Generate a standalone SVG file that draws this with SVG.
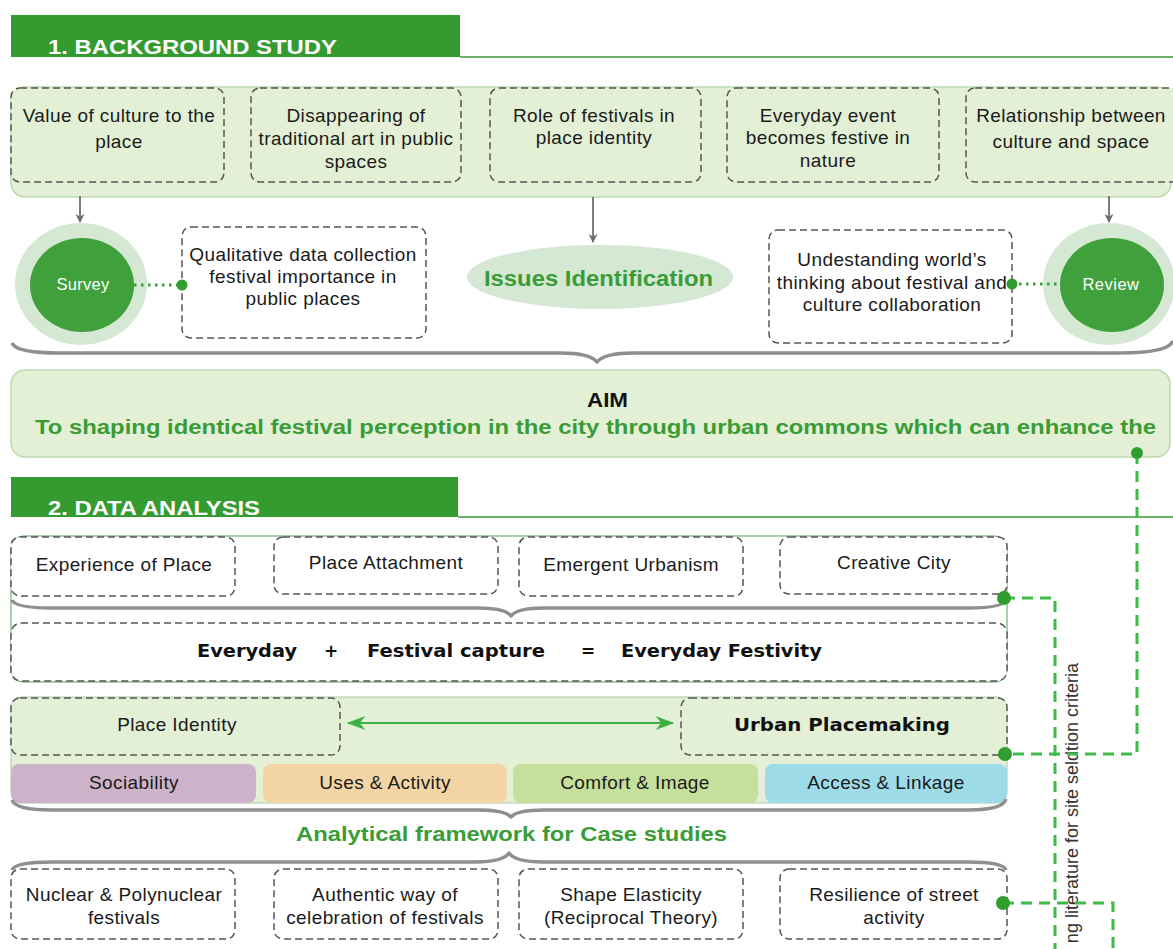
<svg xmlns="http://www.w3.org/2000/svg" width="1173" height="949" viewBox="0 0 1173 949">
<defs>
<style>
.t{font-family:"Liberation Sans",Arial,sans-serif;font-size:19px;fill:#1a1a1a;text-anchor:middle;letter-spacing:0.4px}
.tb{font-family:"Liberation Sans",Arial,sans-serif;font-weight:bold;fill:#111}
.tv{font-family:"DejaVu Sans",Verdana,sans-serif;font-weight:bold;font-size:17px;fill:#111}
.hd{font-family:"Liberation Sans",Arial,sans-serif;font-weight:bold;font-size:21px;fill:#fff}
.gr{font-family:"Liberation Sans",Arial,sans-serif;font-weight:bold;fill:#3a9c37}
.db{fill:none;stroke:#555;stroke-width:1.5;stroke-dasharray:7 4}
.dbf{fill:#e3f0d6;stroke:#555;stroke-width:1.5;stroke-dasharray:7 4}
.dbw{fill:#fff;stroke:#555;stroke-width:1.5;stroke-dasharray:7 4}
.brace{fill:none;stroke:#8f8f8f;stroke-width:3.5;stroke-linejoin:round}
.gline{fill:none;stroke:#3dba48;stroke-width:3;stroke-dasharray:11 7}
.dot{fill:#2f9e2f}
.arr{stroke:#6e6e6e;stroke-width:1.8;fill:none}
</style>
<marker id="ga" viewBox="0 0 10 10" refX="9" refY="5" markerWidth="9" markerHeight="9" orient="auto" markerUnits="userSpaceOnUse">
<path d="M0,0 L10,5 L0,10 L3,5 Z" fill="#6e6e6e"/>
</marker>
<marker id="gg" viewBox="0 0 16 12" refX="15" refY="6" markerWidth="22" markerHeight="14" orient="auto-start-reverse" markerUnits="userSpaceOnUse">
<path d="M0,0 L16,6 L0,12 L5,6 Z" fill="#3cb043"/>
</marker>
</defs>

<!-- Section 1 header -->
<g id="header1">
<rect x="11" y="15" width="449" height="42" fill="#339b30"/>
<line x1="460" y1="57" x2="1173" y2="57" stroke="#3a9a3a" stroke-width="1.5"/>
<text class="hd" x="48" y="54" textLength="289" lengthAdjust="spacingAndGlyphs">1. BACKGROUND STUDY</text>
</g>

<g id="topPanel">
<rect x="11" y="87" width="1160" height="110" rx="14" fill="#e3f0d6" stroke="#bfd9b1" stroke-width="1.5"/>
</g>

<g id="n-value">
<rect class="dbf" x="11" y="88" width="213" height="94" rx="9"/>
<text class="t" x="119" y="122">Value of culture to the</text>
<text class="t" x="119" y="148">place</text>
</g>
<g id="n-disappearing">
<rect class="dbf" x="251" y="88" width="210" height="94" rx="9"/>
<text class="t" x="356" y="122">Disappearing of</text>
<text class="t" x="356" y="145">traditional art in public</text>
<text class="t" x="356" y="168">spaces</text>
</g>
<g id="n-role">
<rect class="dbf" x="490" y="88" width="211" height="94" rx="9"/>
<text class="t" x="594" y="122">Role of festivals in</text>
<text class="t" x="594" y="144">place identity</text>
</g>
<g id="n-everyday">
<rect class="dbf" x="727" y="88" width="212" height="94" rx="9"/>
<text class="t" x="828" y="122">Everyday event</text>
<text class="t" x="828" y="144">becomes festive in</text>
<text class="t" x="828" y="167">nature</text>
</g>
<g id="n-relationship">
<rect class="dbf" x="966" y="88" width="215" height="94" rx="9"/>
<text class="t" x="1071" y="122">Relationship between</text>
<text class="t" x="1071" y="148">culture and space</text>
</g>

<g id="n-survey">
<ellipse cx="81" cy="284" rx="66" ry="61" fill="#d5e8d4"/>
<ellipse cx="82" cy="285" rx="52" ry="47" fill="#40a03c"/>
<text x="83" y="290" style="font-family:'Liberation Sans',Arial,sans-serif;font-size:16.5px;fill:#fff;text-anchor:middle;letter-spacing:0.3px">Survey</text>
</g>
<g id="n-qualitative">
<rect class="dbw" x="182" y="227" width="244" height="111" rx="9"/>
<text class="t" x="303" y="261">Qualitative data collection</text>
<text class="t" x="303" y="283">festival importance in</text>
<text class="t" x="303" y="305">public places</text>
</g>
<g id="n-issues">
<ellipse cx="600" cy="277" rx="133" ry="32" fill="#d5e8d4"/>
<text class="gr" x="484" y="286" font-size="22" textLength="229" lengthAdjust="spacingAndGlyphs">Issues Identification</text>
</g>
<g id="n-understanding">
<rect class="dbw" x="769" y="230" width="243" height="113" rx="9"/>
<text class="t" x="892" y="266">Undestanding world’s</text>
<text class="t" x="892" y="289">thinking about festival and</text>
<text class="t" x="892" y="311">culture collaboration</text>
</g>
<g id="n-review">
<ellipse cx="1109" cy="284" rx="66" ry="61" fill="#d5e8d4"/>
<ellipse cx="1112" cy="285" rx="52" ry="47" fill="#40a03c"/>
<text x="1111" y="290" style="font-family:'Liberation Sans',Arial,sans-serif;font-size:16.5px;fill:#fff;text-anchor:middle;letter-spacing:0.5px">Review</text>
</g>

<g id="n-aim">
<rect x="11" y="370" width="1159" height="87" rx="14" fill="#e3f0d6" stroke="#bfd9b1" stroke-width="1.5"/>
<text class="tb" x="587" y="407" font-size="20" textLength="41" lengthAdjust="spacingAndGlyphs">AIM</text>
<text class="gr" x="35" y="434" font-size="20" textLength="1121" lengthAdjust="spacingAndGlyphs">To shaping identical festival perception in the city through urban commons which can enhance the</text>
</g>

<!-- Section 2 header -->
<g id="header2">
<rect x="11" y="477" width="447" height="40" fill="#339b30"/>
<line x1="458" y1="517" x2="1173" y2="517" stroke="#3a9a3a" stroke-width="1.5"/>
<text class="hd" x="48" y="515" textLength="212" lengthAdjust="spacingAndGlyphs">2. DATA ANALYSIS</text>
</g>

<g id="dataPanel">
<rect x="11" y="536" width="996" height="146" rx="12" fill="#fff" stroke="#5a9e5a" stroke-width="1"/>
</g>
<g id="n-experience">
<rect class="dbw" x="11" y="537" width="224" height="59" rx="9"/>
<text class="t" x="124" y="571">Experience of Place</text>
</g>
<g id="n-attachment">
<rect class="dbw" x="274" y="537" width="224" height="57" rx="9"/>
<text class="t" x="386" y="569">Place Attachment</text>
</g>
<g id="n-emergent">
<rect class="dbw" x="519" y="537" width="224" height="59" rx="9"/>
<text class="t" x="631" y="571">Emergent Urbanism</text>
</g>
<g id="n-creative">
<rect class="dbw" x="780" y="537" width="227" height="57" rx="9"/>
<text class="t" x="894" y="569">Creative City</text>
</g>
<g id="n-festivity">
<rect class="dbw" x="11" y="623" width="996" height="58" rx="10"/>
<text class="tv" x="197" y="657" textLength="100" lengthAdjust="spacingAndGlyphs">Everyday</text>
<text class="tv" x="331" y="657" text-anchor="middle">+</text>
<text class="tv" x="367" y="657" textLength="178" lengthAdjust="spacingAndGlyphs">Festival capture</text>
<text class="tv" x="588" y="657" text-anchor="middle">=</text>
<text class="tv" x="621" y="657" textLength="201" lengthAdjust="spacingAndGlyphs">Everyday Festivity</text>
</g>

<g id="placePanel">
<rect x="11" y="697" width="996" height="106" rx="10" fill="#e3f0d6" stroke="#a9c9a2" stroke-width="1"/>
</g>
<g id="n-placeidentity">
<rect class="dbf" x="11" y="698" width="329" height="57" rx="9"/>
<text class="t" x="177" y="731">Place Identity</text>
</g>
<g id="n-placemaking">
<rect class="dbf" x="681" y="698" width="326" height="57" rx="9"/>
<text class="tv" x="734" y="731" textLength="216" lengthAdjust="spacingAndGlyphs">Urban Placemaking</text>
</g>
<g id="n-sociability">
<rect x="11" y="764" width="245" height="39" rx="8" fill="#ccb3c9"/>
<text class="t" x="134" y="789">Sociability</text>
</g>
<g id="n-uses">
<rect x="263" y="764" width="244" height="39" rx="8" fill="#f3d5a5"/>
<text class="t" x="385" y="789">Uses &amp; Activity</text>
</g>
<g id="n-comfort">
<rect x="513" y="764" width="245" height="39" rx="8" fill="#c5df9d"/>
<text class="t" x="635" y="789">Comfort &amp; Image</text>
</g>
<g id="n-access">
<rect x="765" y="764" width="242" height="39" rx="8" fill="#9ddbe8"/>
<text class="t" x="886" y="789">Access &amp; Linkage</text>
</g>

<g id="n-analytical">
<text class="gr" x="296" y="841" font-size="21" textLength="431" lengthAdjust="spacingAndGlyphs">Analytical framework for Case studies</text>
</g>

<g id="n-nuclear">
<rect class="dbw" x="11" y="869" width="224" height="70" rx="9"/>
<text class="t" x="124" y="901">Nuclear &amp; Polynuclear</text>
<text class="t" x="124" y="924">festivals</text>
</g>
<g id="n-authentic">
<rect class="dbw" x="274" y="869" width="224" height="70" rx="9"/>
<text class="t" x="385" y="901">Authentic way of</text>
<text class="t" x="385" y="924">celebration of festivals</text>
</g>
<g id="n-shape">
<rect class="dbw" x="519" y="869" width="224" height="70" rx="9"/>
<text class="t" x="631" y="901">Shape Elasticity</text>
<text class="t" x="631" y="924">(Reciprocal Theory)</text>
</g>
<g id="n-resilience">
<rect class="dbw" x="780" y="869" width="227" height="70" rx="9"/>
<text class="t" x="894" y="901">Resilience of street</text>
<text class="t" x="894" y="924">activity</text>
</g>

<g id="n-sitelabel">
<text transform="translate(1078,663) rotate(-90)" style="font-family:'Liberation Sans',Arial,sans-serif;font-size:18px;fill:#333;text-anchor:end">ng literature for site seldtion criteria</text>
</g>

<g id="connectors">
<path class="arr" d="M80,196 V222" marker-end="url(#ga)"/>
<path class="arr" d="M593,197 V242" marker-end="url(#ga)"/>
<path class="arr" d="M1109,196 V222" marker-end="url(#ga)"/>
<line x1="134" y1="285" x2="182" y2="285" stroke="#3a9e3a" stroke-width="3" stroke-dasharray="2.5 4.5"/>
<circle class="dot" cx="182" cy="285" r="5.5"/>
<line x1="1012" y1="284" x2="1060" y2="284" stroke="#3a9e3a" stroke-width="3" stroke-dasharray="2.5 4.5"/>
<circle class="dot" cx="1012" cy="284" r="5.5"/>
<path class="brace" d="M12,343 Q16,353 60,353 L560,353 Q590,353 597,362 Q604,353 634,353 L1120,353 Q1168,353 1173,341"/>
<path class="brace" d="M12,600 Q15,608 52,608 L478,608 Q505,608 511,616 Q517,608 544,608 L968,608 Q1003,608 1006,600"/>
<path class="brace" d="M12,800 Q15,810 52,810 L478,810 Q505,810 511,817 Q517,810 544,810 L968,810 Q1003,810 1006,799"/>
<path class="brace" d="M12,870 Q15,862 52,862 L476,862 Q503,862 509,853 Q515,862 542,862 L968,862 Q1003,862 1006,870"/>
<line x1="348" y1="723" x2="673" y2="723" stroke="#3cb043" stroke-width="2.2" marker-start="url(#gg)" marker-end="url(#gg)"/>
<path class="gline" d="M1137,453 V754 H1005"/>
<path class="gline" d="M1004,598 H1055 V949"/>
<path class="gline" d="M1003,903 H1113 V949"/>
<circle class="dot" cx="1137" cy="453" r="6"/>
<circle class="dot" cx="1004" cy="598" r="7"/>
<circle class="dot" cx="1005" cy="754" r="7"/>
<circle class="dot" cx="1003" cy="903" r="7"/>
</g>
</svg>
